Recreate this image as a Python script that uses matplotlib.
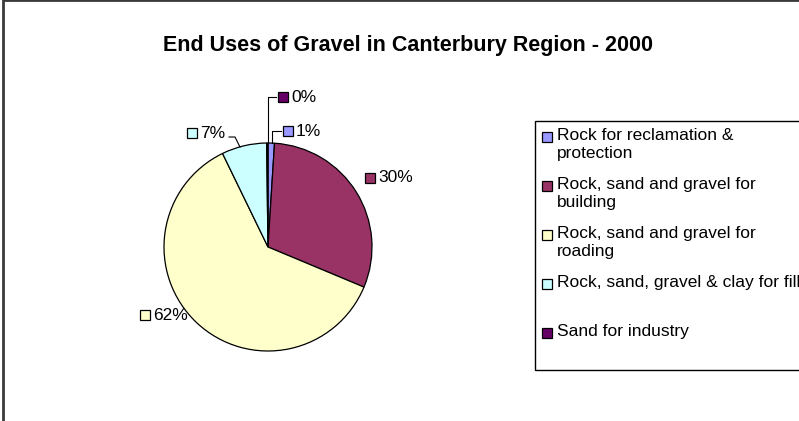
import numpy as np
import matplotlib.pyplot as plt
from matplotlib.patches import Rectangle

plt.rcParams['font.family'] = ['Liberation Sans', 'DejaVu Sans']

# data
categories = ['Rock for reclamation &\nprotection',
              'Rock, sand and gravel for\nbuilding',
              'Rock, sand and gravel for\nroading',
              'Rock, sand, gravel & clay for fill',
              'Sand for industry']
shares = [1.0, 30.3, 61.5, 7.0, 0.2]
pct_labels = ['1%', '30%', '62%', '7%', '0%']
colors = ['#9999FF', '#993366', '#FFFFCC', '#CCFFFF', '#660066']

W, H = 799, 421
fig = plt.figure(figsize=(W / 100, H / 100), dpi=100)


def fx(x):
    return x / W


def fy(y):
    return 1 - y / H


# outer chart frame (runs off the right and bottom edges)
fig.patches.append(Rectangle((fx(3), fy(430)), fx(820), 420 / H + 10 / H,
                             transform=fig.transFigure, fill=False,
                             edgecolor='#3a3a3a', linewidth=2))

fig.text(fx(408), fy(46), 'End Uses of Gravel in Canterbury Region - 2000',
         ha='center', va='center', fontsize=15.5, fontweight='bold')

# pie, centre (268, 247) px, radius 104 px
cx, cy, r = 268, 247, 104
ax = fig.add_axes([fx(cx - r), fy(cy + r), 2 * r / W, 2 * r / H])
wedges, _ = ax.pie(shares, colors=colors, startangle=90, counterclock=False,
                   radius=1, wedgeprops=dict(edgecolor='black', linewidth=0.9))
ax.set_xlim(-1, 1)
ax.set_ylim(-1, 1)
ax.set_aspect('equal')
ax.axis('off')

# label square positions (px relative to pie centre) and leader elbows
label_pos = [(20, -116), (102, -69), (-123, 68), (-76, -114), (15, -150)]
leaders = {0: [(4, -104), (4, -116), (13, -116)],
           4: [(0, -104), (0, -150), (8, -150)],
           3: [(-28, -100), (-33, -110), (-39, -110)]}

for i, (dx, dy) in enumerate(label_pos):
    x, y = dx / r, -dy / r
    ax.plot([x], [y], marker='s', markersize=7, markerfacecolor=colors[i],
            markeredgecolor='black', markeredgewidth=0.9, clip_on=False)
    ax.text(x + 8 / r, y, pct_labels[i], ha='left', va='center',
            fontsize=12.5, clip_on=False)
    if i in leaders:
        pts = np.array(leaders[i], dtype=float) / r
        ax.plot(pts[:, 0], -pts[:, 1], color='black', linewidth=0.8,
                clip_on=False)

# legend box (runs off the right edge)
fig.patches.append(Rectangle((fx(535), fy(370)), fx(300), (370 - 121) / H,
                             transform=fig.transFigure, fill=False,
                             edgecolor='black', linewidth=1))
row_y = 137
for i, name in enumerate(categories):
    fig.patches.append(Rectangle((fx(542), fy(row_y + 5)), 10 / W, 10 / H,
                                 transform=fig.transFigure,
                                 facecolor=colors[i], edgecolor='black',
                                 linewidth=0.9))
    fig.text(fx(557), fy(row_y - 9), name, ha='left', va='top',
             fontsize=12.5, linespacing=1.25)
    row_y += 49

fig.savefig('out.png', dpi=100)
